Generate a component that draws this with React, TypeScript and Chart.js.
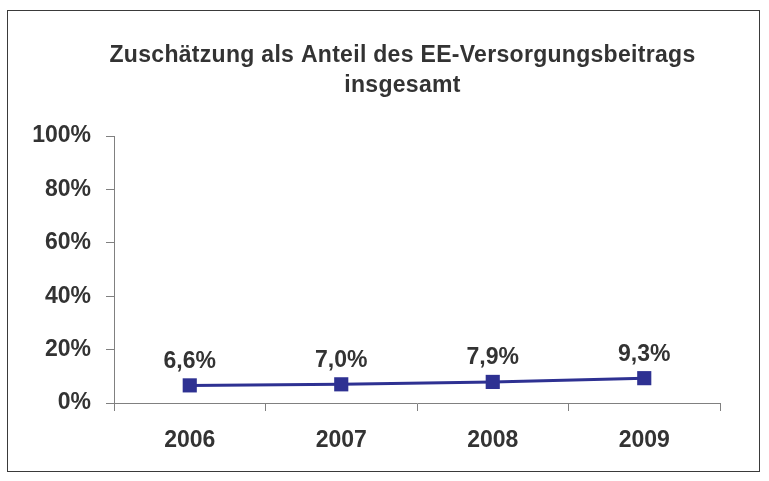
import React, { useEffect, useRef } from "react";
import { Chart, registerables } from "chart.js";

Chart.register(...registerables);

const categories = ["2006", "2007", "2008", "2009"];
const shareValues = [6.6, 7.0, 7.9, 9.3];
const yTicks = [0, 20, 40, 60, 80, 100];
const titleLines = ["Zuschätzung als Anteil des EE-Versorgungsbeitrags", "insgesamt"];

const FONT = "'Liberation Sans', Arial, Helvetica, sans-serif";
const TEXT = "#333333";
const NAVY = "#2E3192";
const AXIS = "#808080";

const fmt = (v: number) => v.toFixed(1).replace(".", ",") + "%";

const frame = {
  id: "frame",
  beforeDraw(chart: any) {
    const ctx = chart.ctx;
    ctx.save();
    ctx.fillStyle = "#ffffff";
    ctx.fillRect(0, 0, chart.width, chart.height);
    ctx.strokeStyle = "#3a3a3a";
    ctx.lineWidth = 1;
    ctx.strokeRect(7.5, 10.5, 752, 461);
    ctx.restore();
  },
};

const titleText = {
  id: "titleText",
  afterDraw(chart: any) {
    const ctx = chart.ctx;
    ctx.save();
    ctx.font = `bold 23px ${FONT}`;
    ctx.fillStyle = TEXT;
    ctx.textAlign = "center";
    ctx.textBaseline = "middle";
    try {
      (ctx as any).letterSpacing = "0.3px";
    } catch (e) {}
    const cx = chart.width / 2 + 18;
    titleLines.forEach((line, i) => {
      ctx.fillText(line, cx, 56 + i * 30);
    });
    ctx.restore();
  },
};

const valueLabels = {
  id: "valueLabels",
  afterDatasetsDraw(chart: any) {
    const ctx = chart.ctx;
    const meta = chart.getDatasetMeta(0);
    const data = chart.data.datasets[0].data as number[];
    ctx.save();
    ctx.font = `bold 23px ${FONT}`;
    ctx.fillStyle = TEXT;
    ctx.textAlign = "center";
    ctx.textBaseline = "middle";
    meta.data.forEach((pt: any, i: number) => {
      ctx.fillText(fmt(data[i]), pt.x, pt.y - 24);
    });
    ctx.restore();
  },
};

export default function App() {
  const ref = useRef<HTMLCanvasElement | null>(null);

  useEffect(() => {
    if (!ref.current) return;
    const chart = new Chart(ref.current, {
      type: "line",
      data: {
        labels: categories,
        datasets: [
          {
            data: shareValues,
            borderColor: NAVY,
            backgroundColor: NAVY,
            borderWidth: 3,
            pointStyle: "rect",
            pointRadius: 10,
            pointBorderWidth: 0,
            pointBackgroundColor: NAVY,
            pointBorderColor: NAVY,
            tension: 0,
            fill: false,
          },
        ],
      },
      options: {
        responsive: false,
        maintainAspectRatio: false,
        animation: false,
        devicePixelRatio: 1,
        layout: { padding: { left: 0, right: 49, top: 136, bottom: 0 } },
        plugins: {
          legend: { display: false },
          tooltip: { enabled: false },
          title: { display: false },
        },
        scales: {
          x: {
            type: "category",
            offset: true,
            grid: {
              offset: true,
              drawOnChartArea: false,
              drawTicks: true,
              tickLength: 8,
              color: AXIS,
            },
            border: { color: AXIS, width: 1 },
            ticks: {
              color: TEXT,
              font: { family: FONT, size: 23, weight: "bold" },
              padding: 16,
              maxRotation: 0,
            },
            afterFit: (s: any) => {
              s.height = 78;
            },
          },
          y: {
            min: 0,
            max: 100,
            afterBuildTicks: (s: any) => {
              s.ticks = yTicks.map((v) => ({ value: v }));
            },
            grid: {
              drawOnChartArea: false,
              drawTicks: true,
              tickLength: 8,
              color: AXIS,
            },
            border: { color: AXIS, width: 1 },
            ticks: {
              color: TEXT,
              font: { family: FONT, size: 23, weight: "bold" },
              padding: 15,
              callback: (v: any) => `${v}%`,
            },
            afterFit: (s: any) => {
              s.width = 114;
            },
          },
        },
      },
      plugins: [frame, valueLabels, titleText],
    });
    return () => chart.destroy();
  }, []);

  return (
    <div style={{ position: "absolute", left: 0, top: 0, width: 769, height: 481 }}>
      <canvas ref={ref} width={769} height={481} style={{ display: "block" }} />
    </div>
  );
}
